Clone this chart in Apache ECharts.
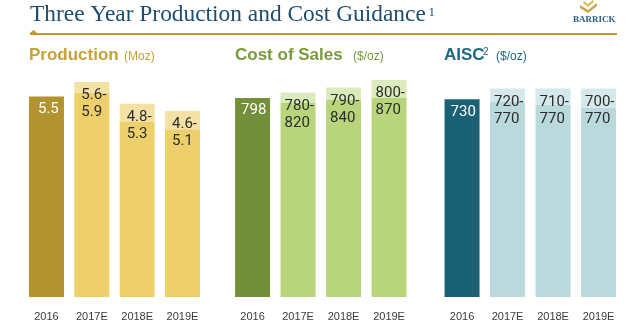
<!DOCTYPE html>
<html>
<head>
<meta charset="utf-8">
<script src="https://cdn.jsdelivr.net/npm/echarts@6/dist/echarts.min.js"></script>
<style>
  html, body { margin: 0; padding: 0; background: #ffffff; }
  #chart { width: 640px; height: 329px; }
</style>
</head>
<body>
<div id="chart"></div>
<script>
// Guidance figures per metric
var years = ['2016', '2017E', '2018E', '2019E'];

// Production (Moz)
var prodActual = [5.5, null, null, null];
var prodLow    = [null, 5.6, 4.8, 4.6];
var prodHigh   = [null, 5.9, 5.3, 5.1];

// Cost of sales ($/oz)
var costActual = [798, null, null, null];
var costLow    = [null, 780, 790, 800];
var costHigh   = [null, 820, 840, 870];

// All-in sustaining cost ($/oz)
var aiscActual = [730, null, null, null];
var aiscLow    = [null, 720, 710, 700];
var aiscHigh   = [null, 770, 770, 770];

var chart = echarts.init(document.getElementById('chart'), null, { renderer: 'canvas' });

var LABEL_FONT = 'Roboto, "Liberation Sans", sans-serif';
var AXIS_FONT = '"Liberation Sans", Arial, sans-serif';

var panels = [
  { actual: prodActual, low: prodLow, high: prodHigh, max: 6.5,
    left: 23.8, width: 181.4, dark: '#b3932f', base: '#edcf6b', top: '#f4e2a4', dx: 3 },
  { actual: costActual, low: costLow, high: costHigh, max: 950,
    left: 229.8, width: 182, dark: '#738f3a', base: '#b9d57b', top: '#dcebbd', dx: 0 },
  { actual: aiscActual, low: aiscLow, high: aiscHigh, max: 875,
    left: 439.3, width: 182, dark: '#1b6176', base: '#b9d9dd', top: '#d5e9eb', dx: 0 }
];

function dash(arr) {
  return arr.map(function (v) { return v == null ? '-' : v; });
}

var grids = [], xAxes = [], yAxes = [], series = [];
panels.forEach(function (p, i) {
  grids.push({ left: p.left, width: p.width, top: 60, bottom: 32 });
  xAxes.push({
    type: 'category', gridIndex: i, data: years,
    axisLine: { show: false }, axisTick: { show: false },
    axisLabel: { color: '#3a3a3a', fontSize: 11, fontFamily: AXIS_FONT, margin: 14 }
  });
  yAxes.push({
    type: 'value', gridIndex: i, min: 0, max: p.max,
    show: false, splitLine: { show: false }
  });
  var stack = 's' + i;
  // reported year
  series.push({
    type: 'bar', xAxisIndex: i, yAxisIndex: i, stack: stack, barWidth: 35,
    data: dash(p.actual),
    itemStyle: { color: p.dark },
    label: {
      show: true, position: 'insideTopLeft', distance: 5, offset: [p.dx + 1, 0],
      color: '#ffffff', fontSize: 15, fontFamily: LABEL_FONT,
      formatter: function (d) { return String(p.actual[d.dataIndex]); }
    },
    animation: false
  });
  // low end of the guidance range
  series.push({
    type: 'bar', xAxisIndex: i, yAxisIndex: i, stack: stack, barWidth: 35,
    data: dash(p.low),
    itemStyle: { color: p.base },
    animation: false
  });
  // spread up to the high end
  series.push({
    type: 'bar', xAxisIndex: i, yAxisIndex: i, stack: stack, barWidth: 35,
    data: p.high.map(function (h, k) { return h == null ? '-' : h - p.low[k]; }),
    itemStyle: { color: p.top },
    label: {
      show: true, position: 'insideTopLeft', distance: 5, offset: [p.dx - 1, 0],
      color: '#2c2c2c', fontSize: 15, lineHeight: 17, fontFamily: LABEL_FONT,
      formatter: function (d) { return p.low[d.dataIndex] + '-\n' + p.high[d.dataIndex]; }
    },
    animation: false
  });
});

var SANS = '"Liberation Sans", Arial, sans-serif';
var SERIF = '"Liberation Serif", "Times New Roman", serif';

var graphics = [
  // page heading
  { type: 'text', style: { x: 30, y: 14.5, text: 'Three Year Production and Cost Guidance',
      font: '23.4px ' + SERIF, fill: '#1f4d70', verticalAlign: 'middle' } },
  { type: 'text', style: { x: 428.5, y: 13, text: '1',
      font: '13px ' + SERIF, fill: '#1f4d70', verticalAlign: 'middle' } },
  { type: 'line', shape: { x1: 30, y1: 34, x2: 617, y2: 34 },
    style: { stroke: '#c39a30', lineWidth: 2 } },
  { type: 'polygon', shape: { points: [[30, 33], [33.5, 30], [37, 33]] },
    style: { fill: '#c39a30' } },
  // logo mark
  { type: 'polygon', shape: { points: [[580, 5], [588, 10], [597, 3], [597, 6], [588, 13], [580, 8]] },
    style: { fill: '#c9a544' } },
  { type: 'polygon', shape: { points: [[584, 1], [588, 4], [593, 0], [594, 2], [588, 7], [583, 3]] },
    style: { fill: '#d9bd6a' } },
  { type: 'text', style: { x: 573, y: 19.5, text: 'BARRICK',
      font: 'bold 9px ' + SERIF, fill: '#2a5f88', verticalAlign: 'middle' } },
  // panel headings
  { type: 'text', style: { x: 29, y: 55.5, text: 'Production',
      font: 'bold 17px ' + SANS, fill: '#c7a137', verticalAlign: 'middle' } },
  { type: 'text', style: { x: 124, y: 56.5, text: '(Moz)',
      font: '12px ' + SANS, fill: '#c7a137', verticalAlign: 'middle' } },
  { type: 'text', style: { x: 235, y: 55.5, text: 'Cost of Sales',
      font: 'bold 17px ' + SANS, fill: '#7a9a3c', verticalAlign: 'middle' } },
  { type: 'text', style: { x: 353, y: 56.5, text: '($/oz)',
      font: '12px ' + SANS, fill: '#7a9a3c', verticalAlign: 'middle' } },
  { type: 'text', style: { x: 444, y: 55.5, text: 'AISC',
      font: 'bold 17px ' + SANS, fill: '#1b6a82', verticalAlign: 'middle' } },
  { type: 'text', style: { x: 483, y: 52, text: '2',
      font: '10px ' + SANS, fill: '#1b6a82', verticalAlign: 'middle' } },
  { type: 'text', style: { x: 496, y: 56.5, text: '($/oz)',
      font: '12px ' + SANS, fill: '#1b6a82', verticalAlign: 'middle' } }
];

chart.setOption({
  animation: false,
  backgroundColor: '#ffffff',
  grid: grids,
  xAxis: xAxes,
  yAxis: yAxes,
  series: series,
  graphic: graphics
});
</script>
</body>
</html>
